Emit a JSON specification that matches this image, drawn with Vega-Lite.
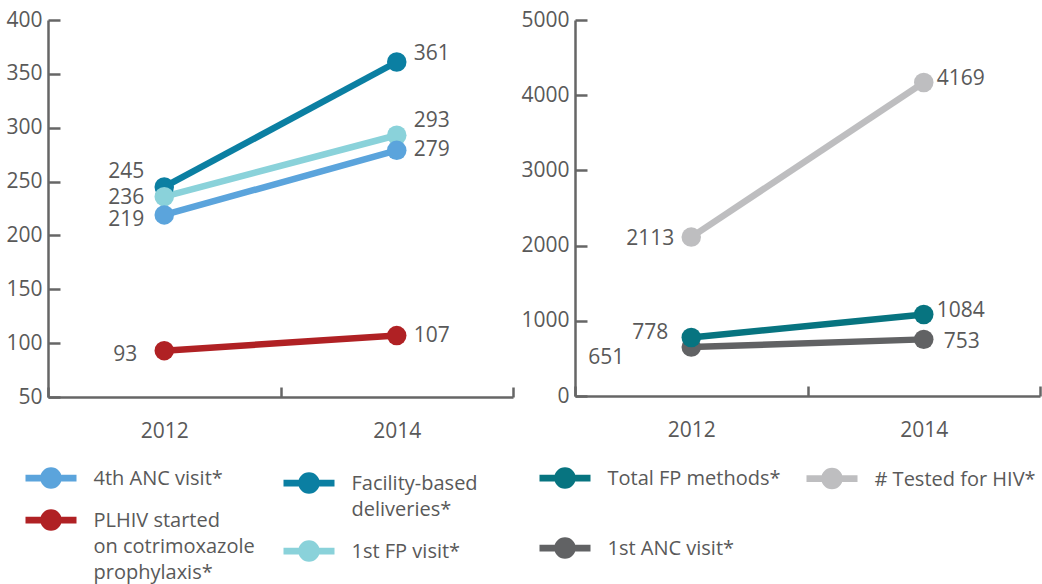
{
  "$schema": "https://vega.github.io/schema/vega-lite/v6.json",
  "padding": {"left": 5, "top": 9, "right": 0, "bottom": 0},
  "spacing": 5,
  "config": {
    "font": "Open Sans",
    "view": {"stroke": null},
    "axis": {"title": null, "grid": false, "labelFont": "Open Sans", "labelFontSize": 21, "labelColor": "#595959", "domainColor": "#666666", "domainWidth": 2.5, "tickColor": "#666666", "tickWidth": 2.5},
    "text": {"font": "Open Sans", "fontSize": 21, "color": "#595959"},
    "legend": {
      "orient": "none", "title": null, "padding": 0,
      "symbolType": "M-2.04,-0.27H2.04V0.27H-2.04Z M0.86,0A0.86,0.86 0 1 1 -0.86,0A0.86,0.86 0 1 1 0.86,0Z",
      "symbolSize": 625, "symbolStrokeWidth": 0, "symbolOffset": 12.5, "symbolOpacity": 1,
      "labelOffset": 30, "labelFont": "Open Sans", "labelFontSize": 20, "labelColor": "#595959",
      "labelBaseline": "top", "labelLimit": 400, "rowPadding": 18, "direction": "vertical"
    }
  },
  "resolve": {"scale": {"color": "independent"}},
  "hconcat": [
    {
      "width": 465, "height": 377,
      "data": {"values": [
        {"series": "Facility-based deliveries*", "year": "2012", "value": 245},
        {"series": "Facility-based deliveries*", "year": "2014", "value": 361},
        {"series": "1st FP visit*", "year": "2012", "value": 236},
        {"series": "1st FP visit*", "year": "2014", "value": 293},
        {"series": "4th ANC visit*", "year": "2012", "value": 219},
        {"series": "4th ANC visit*", "year": "2014", "value": 279},
        {"series": "PLHIV started on cotrimoxazole prophylaxis*", "year": "2012", "value": 93},
        {"series": "PLHIV started on cotrimoxazole prophylaxis*", "year": "2014", "value": 107}
      ]},
      "encoding": {
        "x": {"field": "year", "type": "nominal", "scale": {"type": "band", "domain": ["2012", "2014"], "paddingInner": 0, "paddingOuter": 0},
              "axis": {"labelAngle": 0, "tickBand": "extent", "tickSize": -10, "labelPadding": 33}},
        "y": {"field": "value", "type": "quantitative", "scale": {"domain": [50, 400], "nice": false, "zero": false},
              "axis": {"values": [50, 100, 150, 200, 250, 300, 350, 400], "format": "d", "tickSize": -12, "labelPadding": 18}}
      },
      "resolve": {"scale": {"color": "independent"}, "legend": {"color": "independent"}},
      "layer": [
        {
          "transform": [{"filter": {"field": "series", "oneOf": ["Facility-based deliveries*", "1st FP visit*"]}}],
          "encoding": {"color": {"field": "series", "type": "nominal", "scale": {"domain": ["Facility-based deliveries*", "1st FP visit*"], "range": ["#0B7FA2", "#8AD2DA"]},
               "legend": {"legendX": 236, "legendY": 450.5,
                 "labelExpr": "datum.label == 'Facility-based deliveries*' ? ['Facility-based', 'deliveries*'] : datum.label",
                 "encode": {"labels": {"update": {"dy": {"value": -9}, "lineHeight": {"value": 26}}}}}}},
          "layer": [
            {"mark": {"type": "line", "strokeWidth": 6.5}},
            {"mark": {"type": "point", "filled": true, "opacity": 1, "size": 380}}
          ]
        },
        {
          "transform": [{"filter": {"field": "series", "oneOf": ["4th ANC visit*", "PLHIV started on cotrimoxazole prophylaxis*"]}}],
          "encoding": {"color": {"field": "series", "type": "nominal", "scale": {"domain": ["4th ANC visit*", "PLHIV started on cotrimoxazole prophylaxis*"], "range": ["#5BA4DC", "#B02124"]},
               "legend": {"legendX": -22, "legendY": 445.5,
                 "labelExpr": "datum.label == 'PLHIV started on cotrimoxazole prophylaxis*' ? ['PLHIV started', 'on cotrimoxazole', 'prophylaxis*'] : datum.label",
                 "encode": {"labels": {"update": {"dy": {"value": -9}, "lineHeight": {"value": 26}}}}}}},
          "layer": [
            {"mark": {"type": "line", "strokeWidth": 6.5}},
            {"mark": {"type": "point", "filled": true, "opacity": 1, "size": 380}}
          ]
        },
        {"transform": [{"filter": "datum.year == '2012' && datum.series == '1st FP visit*'"}],
         "mark": {"type": "text", "align": "right", "baseline": "middle", "dx": -20, "dy": 1.5},
         "encoding": {"text": {"field": "value", "type": "quantitative", "format": "d"}}},
        {"transform": [{"filter": "datum.year == '2012' && datum.series == '4th ANC visit*'"}],
         "mark": {"type": "text", "align": "right", "baseline": "middle", "dx": -20, "dy": 5},
         "encoding": {"text": {"field": "value", "type": "quantitative", "format": "d"}}},
        {"transform": [{"filter": "datum.year == '2012' && datum.series == 'Facility-based deliveries*'"}],
         "mark": {"type": "text", "align": "right", "baseline": "middle", "dx": -20, "dy": -14.5},
         "encoding": {"text": {"field": "value", "type": "quantitative", "format": "d"}}},
        {"transform": [{"filter": "datum.year == '2012' && datum.series == 'PLHIV started on cotrimoxazole prophylaxis*'"}],
         "mark": {"type": "text", "align": "right", "baseline": "middle", "dx": -27, "dy": 4.5},
         "encoding": {"text": {"field": "value", "type": "quantitative", "format": "d"}}},
        {"transform": [{"filter": "datum.year == '2014' && (datum.series == '4th ANC visit*' || datum.series == 'PLHIV started on cotrimoxazole prophylaxis*')"}],
         "mark": {"type": "text", "align": "left", "baseline": "middle", "dx": 17, "dy": 0},
         "encoding": {"text": {"field": "value", "type": "quantitative", "format": "d"}}},
        {"transform": [{"filter": "datum.year == '2014' && datum.series == 'Facility-based deliveries*'"}],
         "mark": {"type": "text", "align": "left", "baseline": "middle", "dx": 17, "dy": -8},
         "encoding": {"text": {"field": "value", "type": "quantitative", "format": "d"}}},
        {"transform": [{"filter": "datum.year == '2014' && datum.series == '1st FP visit*'"}],
         "mark": {"type": "text", "align": "left", "baseline": "middle", "dx": 17, "dy": -14.5},
         "encoding": {"text": {"field": "value", "type": "quantitative", "format": "d"}}}
      ]
    },
    {
      "width": 465, "height": 376,
      "data": {"values": [
        {"series": "1st ANC visit*", "year": "2012", "value": 651},
        {"series": "1st ANC visit*", "year": "2014", "value": 753},
        {"series": "Total FP methods*", "year": "2012", "value": 778},
        {"series": "Total FP methods*", "year": "2014", "value": 1084},
        {"series": "# Tested for HIV*", "year": "2012", "value": 2113},
        {"series": "# Tested for HIV*", "year": "2014", "value": 4169}
      ]},
      "encoding": {
        "x": {"field": "year", "type": "nominal", "scale": {"type": "band", "domain": ["2012", "2014"], "paddingInner": 0, "paddingOuter": 0},
              "axis": {"labelAngle": 0, "tickBand": "extent", "tickSize": -10, "labelPadding": 33}},
        "y": {"field": "value", "type": "quantitative", "scale": {"domain": [0, 5000], "nice": false},
              "axis": {"values": [0, 1000, 2000, 3000, 4000, 5000], "format": "d", "tickSize": -12, "labelPadding": 18}}
      },
      "resolve": {"scale": {"color": "independent"}, "legend": {"color": "independent"}},
      "layer": [
        {
          "transform": [{"filter": {"field": "series", "oneOf": ["# Tested for HIV*"]}}],
          "encoding": {"color": {"field": "series", "type": "nominal", "scale": {"domain": ["# Tested for HIV*"], "range": ["#BEBEC0"]},
               "legend": {"legendX": 232, "legendY": 446,
                 "encode": {"labels": {"update": {"dy": {"value": -9}, "lineHeight": {"value": 26}}}}}}},
          "layer": [
            {"mark": {"type": "line", "strokeWidth": 6.5}},
            {"mark": {"type": "point", "filled": true, "opacity": 1, "size": 380}}
          ]
        },
        {
          "transform": [{"filter": {"field": "series", "oneOf": ["Total FP methods*", "1st ANC visit*"]}}],
          "encoding": {"color": {"field": "series", "type": "nominal", "scale": {"domain": ["Total FP methods*", "1st ANC visit*"], "range": ["#077480", "#616264"]},
               "legend": {"legendX": -35, "legendY": 445.5, "rowPadding": 46,
                 "encode": {"labels": {"update": {"dy": {"value": -9}, "lineHeight": {"value": 26}}}}}}},
          "layer": [
            {"mark": {"type": "line", "strokeWidth": 6.5}},
            {"mark": {"type": "point", "filled": true, "opacity": 1, "size": 380}}
          ]
        },
        {"transform": [{"filter": "datum.year == '2012' && datum.series == '# Tested for HIV*'"}],
         "mark": {"type": "text", "align": "right", "baseline": "middle", "dx": -17, "dy": 2},
         "encoding": {"text": {"field": "value", "type": "quantitative", "format": "d"}}},
        {"transform": [{"filter": "datum.year == '2012' && datum.series == 'Total FP methods*'"}],
         "mark": {"type": "text", "align": "right", "baseline": "middle", "dx": -23, "dy": -4},
         "encoding": {"text": {"field": "value", "type": "quantitative", "format": "d"}}},
        {"transform": [{"filter": "datum.year == '2012' && datum.series == '1st ANC visit*'"}],
         "mark": {"type": "text", "align": "right", "baseline": "middle", "dx": -67, "dy": 11},
         "encoding": {"text": {"field": "value", "type": "quantitative", "format": "d"}}},
        {"transform": [{"filter": "datum.year == '2014' && (datum.series == '# Tested for HIV*' || datum.series == 'Total FP methods*')"}],
         "mark": {"type": "text", "align": "left", "baseline": "middle", "dx": 13, "dy": -3.5},
         "encoding": {"text": {"field": "value", "type": "quantitative", "format": "d"}}},
        {"transform": [{"filter": "datum.year == '2014' && datum.series == '1st ANC visit*'"}],
         "mark": {"type": "text", "align": "left", "baseline": "middle", "dx": 20, "dy": 3},
         "encoding": {"text": {"field": "value", "type": "quantitative", "format": "d"}}}
      ]
    }
  ]
}
